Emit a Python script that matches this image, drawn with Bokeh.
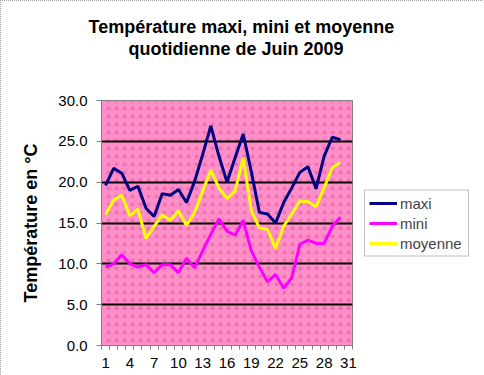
from bokeh.plotting import figure
from bokeh.models import (FixedTicker, NumeralTickFormatter, Range1d,
                          BoxAnnotation, Legend, Title)
from bokeh.embed import file_html
from bokeh.resources import INLINE

days = list(range(1, 31))
maxi = [19.6, 21.7, 21.1, 19.0, 19.5, 16.8, 15.8, 18.6, 18.4, 19.1,
        17.5, 20.1, 23.4, 26.9, 23.2, 20.0, 23.0, 25.9, 21.3, 16.3,
        16.1, 15.0, 17.5, 19.3, 21.2, 21.9, 19.2, 23.2, 25.5, 25.2]
mini = [9.6, 10.0, 11.1, 10.0, 9.6, 9.9, 8.9, 9.9, 9.9, 8.9,
        10.7, 9.5, 11.6, 13.6, 15.5, 14.0, 13.5, 15.3, 11.6, 9.6,
        7.8, 8.7, 7.0, 8.3, 12.4, 12.9, 12.5, 12.5, 14.6, 15.7]
moyenne = [16.0, 17.8, 18.4, 15.9, 16.7, 13.1, 14.6, 16.0, 15.3, 16.5,
           14.7, 16.3, 18.9, 21.5, 19.3, 18.0, 18.9, 23.0, 16.5, 14.4,
           14.2, 11.9, 14.6, 16.1, 17.7, 17.6, 17.0, 19.3, 21.8, 22.4]
x_ticks = [1, 4, 7, 10, 13, 16, 19, 22, 25, 28, 31]
y_ticks = [0, 5, 10, 15, 20, 25, 30]
title_line1 = "Température maxi, mini et moyenne"
title_line2 = "quotidienne de Juin  2009"
y_title = "Température en °C"

FONT = "Liberation Sans"

p = figure(frame_width=251, frame_height=245, output_backend="svg",
           toolbar_location=None, title=None,
           x_range=Range1d(0.5, 31.5), y_range=Range1d(0, 30),
           min_border_left=101, min_border_top=100, min_border_right=132,
           min_border_bottom=30)
p.background_fill_color = "#FF8EC8"
p.border_fill_color = "white"
p.outline_line_color = "#808080"
p.outline_line_width = 1
p.styles = {"outline": "1px dotted #808080", "outline-offset": "-1px"}

# spacer between the frame and the two title lines
p.add_layout(Title(text=" ", standoff=20, text_font=FONT, text_font_size="18px",
                   text_font_style="bold"), "above")
for txt, off in [(title_line2, 27), (title_line1, -13)]:
    p.add_layout(Title(text=txt, align="left", offset=off, standoff=0,
                       text_font=FONT, text_font_size="18px",
                       text_font_style="bold", text_color="black"), "above")

p.add_layout(BoxAnnotation(fill_alpha=0, line_color=None, hatch_pattern=".",
                           hatch_color="#E0609E", hatch_scale=8, hatch_weight=0.6,
                           hatch_alpha=0.6, level="image"))

p.xgrid.visible = False
p.ygrid.ticker = FixedTicker(ticks=[5, 10, 15, 20, 25])
p.ygrid.grid_line_color = "black"
p.ygrid.grid_line_width = 2

# x axis
p.xaxis.ticker = FixedTicker(ticks=x_ticks,
                             minor_ticks=[d + 0.5 for d in range(0, 32)])
p.xaxis.axis_line_color = "#808080"
p.xaxis.major_tick_line_color = None
p.xaxis.major_tick_out = 4
p.xaxis.major_tick_in = 0
p.xaxis.minor_tick_line_color = "#808080"
p.xaxis.minor_tick_out = 4
p.xaxis.minor_tick_in = 0
p.xaxis.major_label_standoff = 8
p.xaxis.major_label_text_font = FONT
p.xaxis.major_label_text_font_size = "15px"
p.xaxis.major_label_text_color = "black"

# y axis
p.yaxis.ticker = FixedTicker(ticks=y_ticks, minor_ticks=[])
p.yaxis.formatter = NumeralTickFormatter(format="0.0")
p.yaxis.axis_line_color = "#808080"
p.yaxis.major_tick_line_color = "#808080"
p.yaxis.major_tick_out = 5
p.yaxis.major_tick_in = 0
p.yaxis.major_label_standoff = 9
p.yaxis.major_label_text_font = FONT
p.yaxis.major_label_text_font_size = "15px"
p.yaxis.major_label_text_color = "black"
p.yaxis.axis_label = y_title
p.yaxis.axis_label_text_font = FONT
p.yaxis.axis_label_text_font_size = "18px"
p.yaxis.axis_label_text_font_style = "bold"
p.yaxis.axis_label_text_color = "black"
p.yaxis.axis_label_standoff = 14

r1 = p.line(days, maxi, line_color="#000080", line_width=3)
r2 = p.line(days, mini, line_color="#FF00FF", line_width=3)
r3 = p.line(days, moyenne, line_color="#FFFF00", line_width=3)

legend = Legend(items=[("maxi", [r1]), ("mini", [r2]), ("moyenne", [r3])],
                location="center_left")
legend.border_line_color = "#808080"
legend.border_line_width = 1
legend.background_fill_color = "white"
legend.background_fill_alpha = 1
legend.label_text_font = FONT
legend.label_text_font_size = "15px"
legend.glyph_width = 28
legend.glyph_height = 17
legend.spacing = 3
legend.padding = 4
legend.margin = 12
legend.label_standoff = 3
legend.label_width = 64
p.add_layout(legend, "right")

open("out.html", "w").write(file_html(p, INLINE))
